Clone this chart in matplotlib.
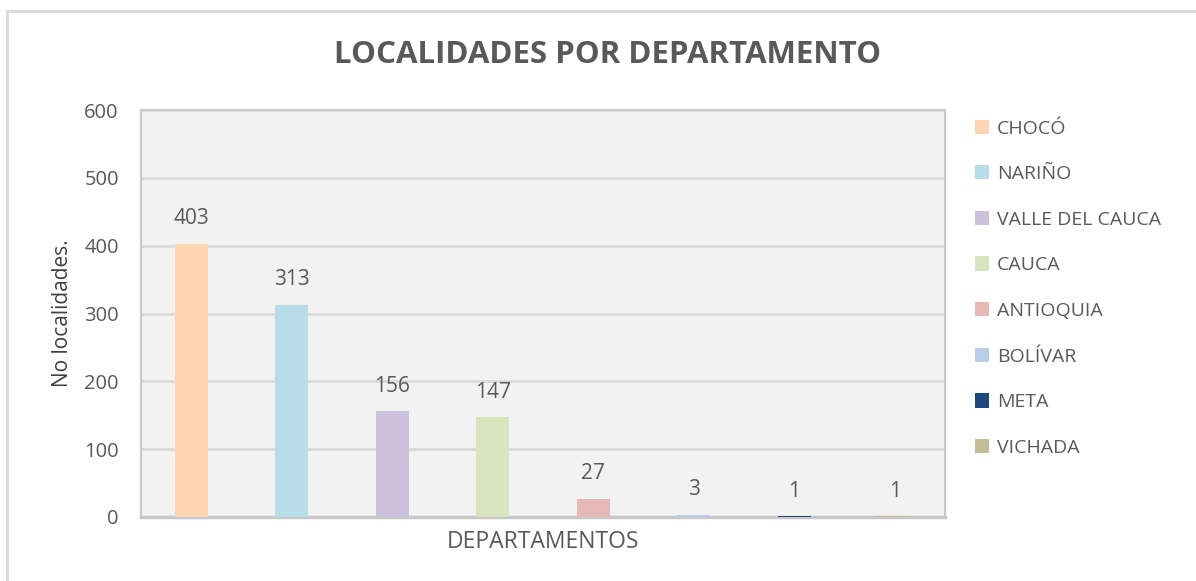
import matplotlib.pyplot as plt
from matplotlib.patches import Patch
from matplotlib.lines import Line2D

departamentos = ['CHOCÓ', 'NARIÑO', 'VALLE DEL CAUCA', 'CAUCA', 'ANTIOQUIA',
                 'BOLÍVAR', 'META', 'VICHADA']
localidades = [403, 313, 156, 147, 27, 3, 1, 1]
colores = ['#fcd5b5', '#b7dde8', '#ccc1da', '#d7e4bd', '#e6b9b8',
           '#b9cde5', '#1f497d', '#c4bd97']

texto = '#595959'
plt.rcParams['font.family'] = ['Open Sans', 'DejaVu Sans']

fig = plt.figure(figsize=(11.96, 5.81), dpi=100)
ax = fig.add_axes([141 / 1196, 1 - 517 / 581, 804 / 1196, 407 / 581])
ax.set_facecolor('#f2f2f2')

x = list(range(len(departamentos)))
bars = ax.bar(x, localidades, width=0.33, color=colores, zorder=3)
for xi, v in zip(x, localidades):
    ax.annotate(str(v), (xi, v), xytext=(0, 18), textcoords='offset points',
                ha='center', va='center', fontsize=15, color=texto)

ax.set_xlim(-0.5, len(departamentos) - 0.5)
ax.set_ylim(0, 600)
ax.set_yticks(range(0, 601, 100))
ax.set_xticks([])
ax.yaxis.grid(True, color='#d9d9d9', linewidth=2, zorder=0)
ax.tick_params(axis='y', length=0, labelsize=14.5, labelcolor=texto, pad=16)
for s in ax.spines.values():
    s.set_color('#c8c8c8')
    s.set_linewidth(1.5)
ax.spines['bottom'].set_linewidth(2.5)

ax.set_ylabel('No localidades.', fontsize=15, color='#404040', labelpad=8)
ax.set_xlabel('DEPARTAMENTOS', fontsize=16.5, color=texto, labelpad=9)

fig.text(608 / 1196, 1 - 55 / 581, 'LOCALIDADES POR DEPARTAMENTO', ha='center', va='center',
         fontsize=22.5, fontweight='bold', color=texto)

handles = [Patch(facecolor=c, edgecolor='none') for c in colores]
fig.legend(handles, departamentos, loc='upper left', bbox_to_anchor=(957 / 1196, 1 - 102 / 581),
           frameon=False, fontsize=14, labelcolor=texto, handlelength=0.75, handleheight=0.75,
           handletextpad=0.4, labelspacing=1.42)

# marco exterior
fig.add_artist(Line2D([7 / 1196, 7 / 1196], [0, 1 - 11 / 581], transform=fig.transFigure,
                      color='#d9d9d9', linewidth=2))
fig.add_artist(Line2D([7 / 1196, 1], [1 - 11 / 581, 1 - 11 / 581], transform=fig.transFigure,
                      color='#d9d9d9', linewidth=2))

fig.savefig('out.png', dpi=100)
